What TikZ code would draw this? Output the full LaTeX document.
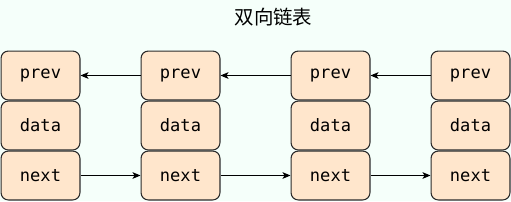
\documentclass[tikz,border=0pt]{standalone}
\usepackage{fontspec}
\setmonofont{DejaVu Sans Mono}
\newfontfamily\cjk{Noto Sans CJK SC}
\usetikzlibrary{arrows.meta}
\definecolor{bg}{HTML}{F5FFFA}
\definecolor{cellfill}{HTML}{FFE6CC}
\definecolor{cellline}{HTML}{2B2B2B}
\tikzset{
  cell/.style={draw=cellline, fill=cellfill, line width=0.8pt, rounded corners=5.5pt,
    minimum width=59.2pt, minimum height=36.7pt, inner sep=0pt,
    font=\ttfamily\fontsize{12.8}{12.8}\selectfont},
  link/.style={draw=black, line width=0.75pt, -{Stealth[length=6pt,width=5pt,inset=1.5pt]}}
}
\begin{document}
\begin{tikzpicture}[x=0.75pt,y=-0.75pt]
\fill[bg] (0,0) rectangle (511,201);
\useasboundingbox (0,0) rectangle (511,201);
\node[font=\cjk\fontsize{14.6}{14.6}\selectfont] (title) at (273.5,17.5) {双向链表};
\foreach \i/\x in {1/40.5,2/180.5,3/330.5,4/470.5}{
  \node[cell] (p\i) at (\x,75.5) {prev};
  \node[cell] (d\i) at (\x,125.5) {data};
  \node[cell] (n\i) at (\x,175.5) {next};
}
\foreach \a/\b in {1/2,2/3,3/4}{
  \draw[link] (p\b.west) -- (p\a.east);
  \draw[link] (n\a.east) -- (n\b.west);
}
\end{tikzpicture}
\end{document}
